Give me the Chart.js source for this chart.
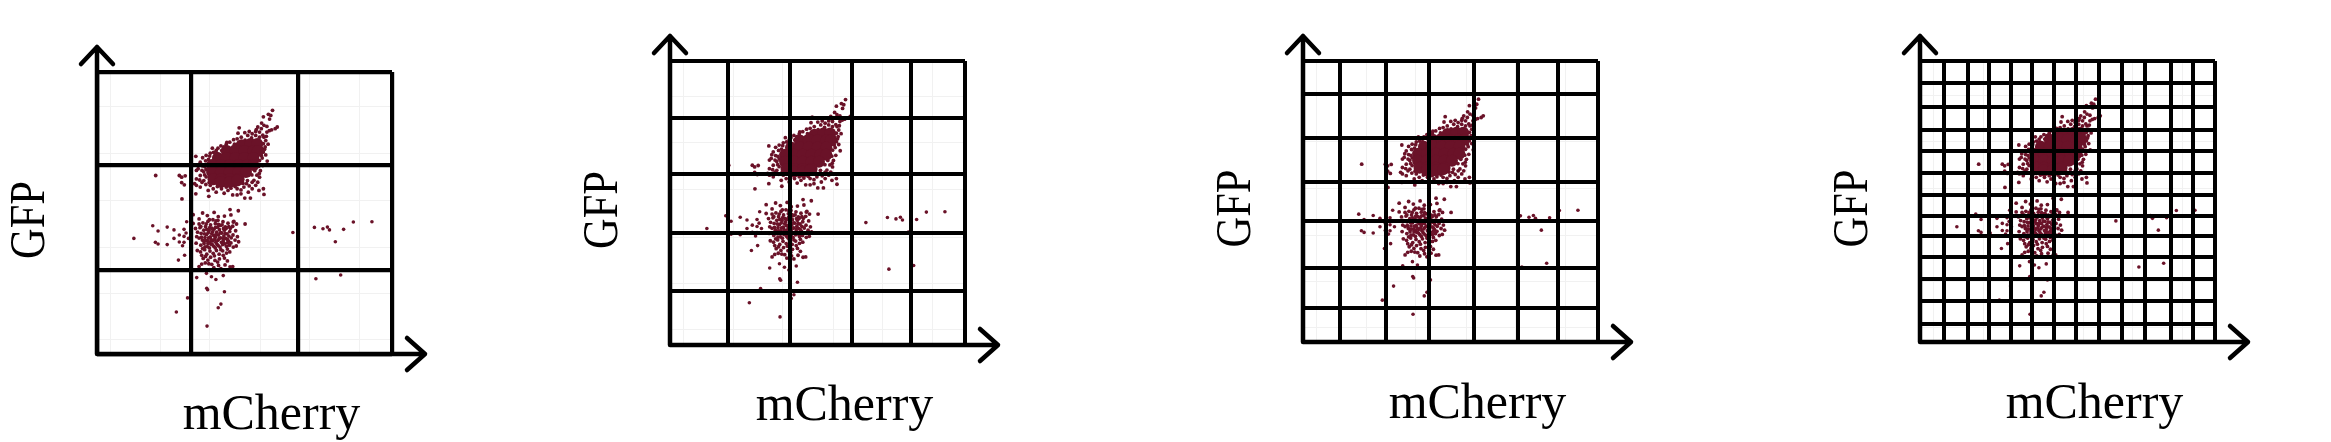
<!DOCTYPE html>
<html>
<head>
<meta charset="utf-8">
<script src="https://cdn.jsdelivr.net/npm/chart.js@4"></script>
<style>
	html, body { margin: 0; background: #fff; }
	body { position: relative; width: 2331px; height: 442px; overflow: hidden; }
	canvas { position: absolute; top: 0; }
</style>
</head>
<body>
<script>
// --------------
// DATA (both axes in % of the plot range)
// --------------

// dense middle of the upper population
const upperCore = [
	[49,74],[52,74.5],[54.3,74.5],
	[44,72],[47,72.3],[50,72],[53,72],[54.5,72],
	[41,69.5],[44,69.5],[47,69.5],[50,69.5],[53,69.5],
	[39,67],[42,67],[45,67],[48,67],[51,67],[53,67],
	[39,64.5],[42,64.5],[45,64.5],[48,64.5],[50.5,64.5],
	[39.5,62],[42,62],[45,62],[48,62],
	[42,61],[45,61],[47.5,61.5],
];

// loose points round the upper population
const upperEdge = [
	[59.5,86.4],[58.1,85],[56.4,84.1],[58.9,84.6],[58.5,83.3],[55.8,81.9],[56.6,81.1],[57.6,80.7],
	[61.1,80.5],[60.4,79.9],[59.2,79.5],[54.5,80.5],[48.2,80.2],[57.6,78.7],[55.7,79.9],[53.8,78.9],
	[51.6,78.9],[50.1,78.5],[47.8,78.3],[56.6,76.9],[57.2,75.7],[48.9,76.9],[47.5,76.3],[45,75.1],
	[43.8,74.3],[39.1,73],[42.3,72.2],[40.6,71.2],[38.2,70.2],[33.5,70.1],[35.8,69.6],[35,68],
	[57.7,68.4],[55.1,68.6],[56.4,71.6],[55.7,70.4],[53.8,77.5],[52.6,78.1],[51.1,77.5],[55.1,78.7],
	[56.4,74.6],[57,73.4],[55.1,76.9],[46.3,76],[44,75],[42,73.8],[41,73],[39.5,71.5],[37.8,69],[36.8,68.5],
	[56,69.5],[54.8,66.5],[53.5,65],[52.5,63.5],[51,61.5],[49.5,60.5],[55.1,62.7],[54.5,60.9],[52.6,60.9],
	[50.7,60.4],[53.8,59.8],[56.4,58.6],[54.9,58],[56.6,56.6],[52,55.3],[50.1,55.3],[48.8,56.8],[47.5,56.4],
	[46,56.4],[51.3,57.4],[48.8,58.2],[44.4,58],[43.1,57],[40.4,57.4],[39.4,58.6],[37.9,55.9],[37.7,58],
	[33.5,56.8],[33.7,59.8],[35,59.2],[35.6,60.9],[36.9,60.1],[33.7,62.1],[35,63.3],[33.7,65.1],[35.6,65.1],
	[33.1,60.4],[34.3,65.7],[36.2,61.5],[38.4,59.8],[47.5,58.6],[43.8,59.2],[52.6,58.6],[36.5,63.5],[37,65.5],
	[19.9,63.3],[27.9,63.3],[29.9,63.2],[28.7,62.7],[28.7,60.8],[29.6,60],[28.8,55],
	[34.5,67],[35.8,66.7],[36.6,66.4],[34.8,61.7],[36.2,64.6],[37,62.8],[38,60.8],[40.8,59.4],[42.2,58.6],
	[45.4,58.8],[46.8,59.4],[49.8,59.2],[51.6,59.6],[53.2,61.6],[54.2,63.4],[55.4,65],[56.2,66.8],[55,64],
	[57.2,70.6],[56.8,72.6],[58,74.4],[56.2,77.6],[54,79.6],[52.4,76.6],[50.2,75.8],[46.6,74.4],[43,73.4],
	[40.4,72.2],[38.4,71.2],[37,70.4],[55.8,73],[57.4,77.2],[58.4,79.2],
];

// lower population
const lowerCloud = [
	[45.1,51.2],[47.9,50.8],[35.8,50],[39.7,50.2],[32.6,49.4],[37.4,49.1],[41.1,48.7],[43.2,48.9],[45.4,49.3],
	[50.2,46.1],[46.4,47],[47.3,46.1],[34.6,47.9],[32.6,46.3],[34.6,46.1],
	[34.9,44.8],[35.9,46.5],[36.8,45.2],[37.6,47],[38.5,45.8],[39.3,47.6],[40.1,46.2],[41,47.4],[41.8,45.6],
	[42.7,46.9],[43.5,45.1],[44.4,46.4],[45.2,44.6],[46,45.3],[34.1,43.2],[35.3,42.8],[36.2,43.9],[37.1,42.4],
	[38,43.8],[38.9,42.7],[39.7,44.3],[40.6,43.2],[41.5,44.1],[42.3,42.9],[43.2,43.9],[44.1,42.6],[45,43.4],
	[46.1,42.2],[47,43.7],[34.6,41.1],[35.7,40.4],[36.6,41.3],[37.5,40.2],[38.4,41.5],[39.2,40.1],[40.1,41.4],
	[41,40.3],[41.9,41.2],[42.8,40.1],[43.7,41],[44.6,40],[45.5,41.2],[46.8,40.4],[33.6,39.3],[35.2,38.6],
	[36.3,39.2],[37.4,38.1],[38.6,39],[39.6,38.2],[40.7,38.9],[41.7,37.9],[42.6,38.8],[43.9,38.2],[44.9,38.6],
	[46.2,37.9],[47.2,38.3],[34,36.7],[35.1,36.2],[36.5,37],[37.2,35.4],[38.3,36.5],[39.4,35.7],[40.5,36.7],
	[41.4,35.4],[42.6,36.6],[43.9,35.8],[45,36.2],[36,33.9],[37.6,33.3],[38.5,34.3],[40,33.2],[41.5,33.7],
	[43.2,34],[44.2,33],[35.5,31.9],[36.7,32.3],[38.9,31.8],[39.6,30.6],[41.2,31.4],[42,30.3],[43.4,31.6],
	[34.6,31],[45.1,30.9],[46,31],[38.2,44.8],[40.9,45],[42.9,44.5],[37.8,41.2],[39.5,42.1],[41.2,42.2],
	[43,41.8],[36.2,40.1],[38.2,39.7],[40.3,39.6],[42.2,39.6],[44.2,39.4],[35.2,45.2],[44.7,45.2],[46.2,46.8],
	[37.2,44.2],[38.9,44.6],[40.2,44.9],[41.2,46],[42.4,45.8],[43.8,44.6],[37,46.1],[38.1,47.6],[40.3,47.2],
	[36.4,42.6],[37.7,43],[39.2,43.4],[40.2,42.2],[41.9,43],[43.4,42.7],[44.7,41.8],[35.4,41.4],[36.8,40.2],
	[38.7,40.6],[39.9,40.6],[41.4,40.9],[42.8,40.9],[44.2,40.6],[37.6,39.2],[39.1,38.8],[41.1,38.4],[43.2,39.1],
	[45.4,39.4],[36.6,38],[38.1,37.6],[40.1,37.6],[42,37],[44.2,37.2],[35.8,37.4],[33.4,44.5],[33.8,41.6],
	[47.6,41.6],[48,39.8],[35.5,35],[36.8,34.6],[39.8,34.8],[42.8,35],[40.9,32.6],[37.9,32],
];

// scattered single cells
const strayCells = [
	[12.5,41],[18.9,45.5],[20.7,43.6],[23.8,45],[26.1,44],[29.5,44.2],[27.9,42.2],[30.2,42.9],[29.5,41.7],
	[26.1,41],[19.8,39.6],[20.7,39],[23.8,38.8],[27.9,39.7],[29.5,39.6],[29,38.4],[31,41],[30.4,46.9],
	[29.7,35],[27.6,33.3],[66.4,43.1],[73.7,44.9],[76.6,44.4],[78.1,45],[78.8,44],[83.6,44.2],[86.9,46.8],
	[93.2,46.9],[80.8,39.8],[74.2,26.7],[82.6,28],[33.8,27.1],[37.1,28.6],[38.8,27.4],[40.3,26.4],[42.8,27.8],
	[37.2,23.3],[37.5,22.8],[43.2,22.1],[30.7,19.9],[42,17.7],[41.1,16.4],[26.9,14.9],[37.3,9.9],
];

// bin edges of the four panels
const xEdgesA = [0,31.9,68,100];
const yEdgesA = [0,29.8,67,100];
const xEdgesB = [0,19.8,40.6,61.6,81.6,100];
const yEdgesB = [0,19.1,39.6,60.2,79.8,100];
const xEdgesC = [0,12.7,28.2,42.8,57.9,72.9,86.4,100];
const yEdgesC = [0,12.1,26.5,42.9,57.1,72.5,88.3,100];
const xEdgesD = [0,8.1,16.2,23.5,30.7,38,45.4,52.9,60.8,68.6,76.4,85.1,92.5,100];
const yEdgesD = [0,6.5,14.5,22.4,30.4,37.8,44.9,52.4,60.1,67.8,75.5,83.5,92,100];

// faint background lines behind the bins
const xFaint = [4.6,21.6,38.3,55.3,72.2,88.9];
const yFaint = [5.3,21.5,37.8,54.6,71.2,87.6];

const xTitle = "mCherry";
const yTitle = "GFP";

// --------------
// CONFIG CHART
// --------------
const toPoints = (pairs) => pairs.map((p) => ({ x: p[0], y: p[1] }));
const CHERRY = "#6a1228";
const FONT = "'Liberation Serif', serif";
const CANVAS_W = 500;
const CANVAS_H = 442;
const PLOT_W = 295;
const PLOT_LEFT = 100;

const panels = [
	{ left: 97, top: 72, bottom: 354, xEdges: xEdgesA, yEdges: yEdgesA, line: 4.2, titleY: 429 },
	{ left: 670, top: 61, bottom: 345, xEdges: xEdgesB, yEdges: yEdgesB, line: 4, titleY: 420 },
	{ left: 1303, top: 61, bottom: 342, xEdges: xEdgesC, yEdges: yEdgesC, line: 4, titleY: 418 },
	{ left: 1920, top: 61, bottom: 342, xEdges: xEdgesD, yEdges: yEdgesD, line: 4, titleY: 418 },
];

// arrows on the axes and the axis names
const axisDecor = {
	id: "axisDecor",
	afterDraw(chart, args, opts) {
		const { ctx, chartArea } = chart;
		const { left, right, top, bottom } = chartArea;
		ctx.save();
		ctx.strokeStyle = "#000";
		ctx.lineWidth = 4.5;
		ctx.lineCap = "round";
		ctx.lineJoin = "round";
		ctx.beginPath();
		ctx.moveTo(left, bottom);
		ctx.lineTo(left, top - 25);
		ctx.moveTo(left - 16, top - 8);
		ctx.lineTo(left, top - 25);
		ctx.lineTo(left + 16, top - 8);
		ctx.moveTo(left, bottom);
		ctx.lineTo(right + 33, bottom);
		ctx.moveTo(right + 15, bottom - 16);
		ctx.lineTo(right + 33, bottom);
		ctx.lineTo(right + 15, bottom + 16);
		ctx.stroke();

		ctx.fillStyle = "#000";
		ctx.textAlign = "center";
		ctx.textBaseline = "alphabetic";
		ctx.font = "50px " + FONT;
		ctx.fillText(xTitle, (left + right) / 2 + 27, opts.titleY);
		ctx.translate(left - 53, (top + bottom) / 2 + 7);
		ctx.rotate(-Math.PI / 2);
		ctx.scale(0.85, 1);
		ctx.fillText(yTitle, 0, 0);
		ctx.restore();
	},
};

const edgeScale = (edges, width) => ({
	type: "linear",
	min: 0,
	max: 100,
	afterBuildTicks: (axis) => {
		axis.ticks = edges.map((v) => ({ value: v }));
	},
	ticks: { display: false, autoSkip: false },
	border: { display: false },
	grid: { color: "#000", lineWidth: width, drawTicks: false, z: 1 },
});

const faintScale = (edges, position) => ({
	type: "linear",
	position: position,
	min: 0,
	max: 100,
	afterBuildTicks: (axis) => {
		axis.ticks = edges.map((v) => ({ value: v }));
	},
	ticks: { display: false, autoSkip: false },
	border: { display: false },
	grid: { color: "#f1f1f1", lineWidth: 1, drawTicks: false, z: -1 },
});

const setPanelChart = (panel) => {
	const canvas = document.createElement("canvas");
	canvas.width = CANVAS_W;
	canvas.height = CANVAS_H;
	canvas.style.left = panel.left - PLOT_LEFT + "px";
	canvas.style.width = CANVAS_W + "px";
	canvas.style.height = CANVAS_H + "px";
	document.body.appendChild(canvas);

	const config = {
		type: "scatter",
		data: {
			datasets: [
				{ label: "core", data: toPoints(upperCore), backgroundColor: CHERRY, pointRadius: 6, pointBorderWidth: 0 },
				{ label: "upper", data: toPoints(upperEdge), backgroundColor: CHERRY, pointRadius: 1.9, pointBorderWidth: 0 },
				{ label: "lower", data: toPoints(lowerCloud), backgroundColor: CHERRY, pointRadius: 1.9, pointBorderWidth: 0 },
				{ label: "stray", data: toPoints(strayCells), backgroundColor: CHERRY, pointRadius: 1.8, pointBorderWidth: 0 },
			],
		},
		options: {
			responsive: false,
			animation: false,
			devicePixelRatio: 1,
			layout: {
				padding: {
					left: PLOT_LEFT,
					right: CANVAS_W - PLOT_LEFT - PLOT_W,
					top: panel.top,
					bottom: CANVAS_H - panel.bottom,
				},
			},
			plugins: {
				legend: { display: false },
				tooltip: { enabled: false },
				axisDecor: { titleY: panel.titleY },
			},
			scales: {
				x: edgeScale(panel.xEdges, panel.line),
				y: edgeScale(panel.yEdges, panel.line),
				xFaint: faintScale(xFaint, "bottom"),
				yFaint: faintScale(yFaint, "left"),
			},
		},
		plugins: [axisDecor],
	};

	new Chart(canvas, config);
};

panels.forEach(setPanelChart);
</script>
</body>
</html>
